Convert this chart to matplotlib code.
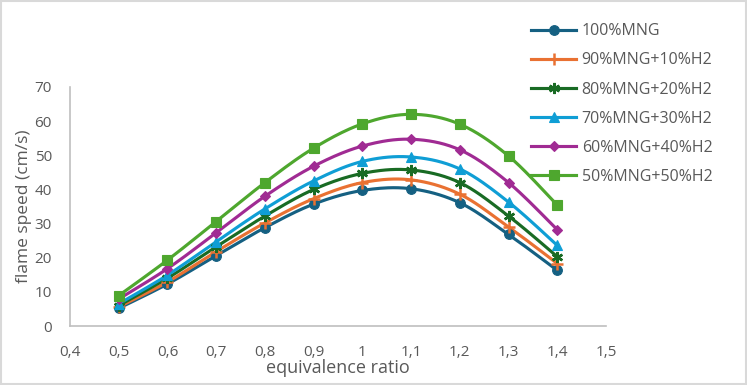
import numpy as np
import matplotlib
matplotlib.use("Agg")
import matplotlib.pyplot as plt
from matplotlib.patches import Rectangle

# ---- data ----
phi = [0.5, 0.6, 0.7, 0.8, 0.9, 1.0, 1.1, 1.2, 1.3, 1.4]
mng100 = [5.2, 12.3, 20.6, 28.8, 35.7, 39.7, 40.2, 36.1, 26.8, 16.3]
mng90 = [5.6, 12.9, 21.8, 30.2, 37.3, 42.0, 42.8, 38.6, 29.0, 18.3]
mng80 = [6.0, 14.0, 23.2, 32.2, 40.0, 44.7, 45.7, 42.0, 32.2, 20.3]
mng70 = [6.5, 14.9, 24.7, 34.3, 42.5, 48.2, 49.5, 46.0, 36.3, 23.6]
mng60 = [7.9, 16.8, 27.3, 38.0, 46.8, 52.7, 54.7, 51.6, 42.0, 28.2]
mng50 = [8.9, 19.3, 30.6, 42.0, 52.1, 59.2, 62.0, 59.1, 49.8, 35.4]
series_names = ["100%MNG", "90%MNG+10%H2", "80%MNG+20%H2",
                "70%MNG+30%H2", "60%MNG+40%H2", "50%MNG+50%H2"]
series_vals = [mng100, mng90, mng80, mng70, mng60, mng50]
xticks = [0.4, 0.5, 0.6, 0.7, 0.8, 0.9, 1.0, 1.1, 1.2, 1.3, 1.4, 1.5]
xtick_labels = ["0,4", "0,5", "0,6", "0,7", "0,8", "0,9", "1", "1,1", "1,2", "1,3", "1,4", "1,5"]
yticks = [0, 10, 20, 30, 40, 50, 60, 70]

colors = ["#156082", "#E97132", "#196B24", "#0F9ED5", "#A02B93", "#4EA72E"]
markers = ["o", "+", (6, 2, 0), "^", "D", "s"]
msizes = [7, 8, 8, 7.5, 5.5, 7.5]

plt.rcParams['font.family'] = ['Open Sans', 'DejaVu Sans']

fig = plt.figure(figsize=(7.47, 3.85), dpi=100)
ax = fig.add_axes([70/747, 1-326/385, (606-70)/747, (326-87)/385])
fig.patches.append(Rectangle((0.001, 0.002), 0.997, 0.995, transform=fig.transFigure,
                             fill=False, edgecolor="#d9d9d9", linewidth=1.5))

ax.set_xlim(0.4, 1.5)
ax.set_ylim(0, 70)


def smooth(x, y, sx, sy, n=20):
    # Excel-like smoothed line (cardinal Bezier), computed in screen-like scale
    P = np.column_stack([np.asarray(x) * sx, np.asarray(y) * sy])
    out = []
    m = len(P)
    for i in range(m - 1):
        p0 = P[i - 1] if i > 0 else P[i]
        p1 = P[i]
        p2 = P[i + 1]
        p3 = P[i + 2] if i + 2 < m else P[i + 1]
        c1 = p1 + (p2 - p0) / 6.0
        c2 = p2 - (p3 - p1) / 6.0
        t = np.linspace(0, 1, n)[:, None]
        seg = ((1 - t) ** 3) * p1 + 3 * ((1 - t) ** 2) * t * c1 + 3 * (1 - t) * t ** 2 * c2 + t ** 3 * p2
        out.append(seg if i == 0 else seg[1:])
    S = np.vstack(out)
    return S[:, 0] / sx, S[:, 1] / sy


sx = 490.0
sy = 3.414
for name, vals, c, mk, ms in zip(series_names, series_vals, colors, markers, msizes):
    xs, ys = smooth(phi, vals, sx, sy)
    ax.plot(xs, ys, color=c, lw=2.25, solid_capstyle="round", zorder=2)
    mew = 1.8 if mk in ("+",) or isinstance(mk, tuple) else 0.8
    ax.plot(phi, vals, linestyle="none", marker=mk, markersize=ms, color=c,
            markeredgecolor=c, markeredgewidth=mew, zorder=3)
    ax.plot([], [], color=c, lw=2.25, marker=mk, markersize=ms, markeredgewidth=mew,
            label=name)

ax.set_xticks(xticks)
ax.set_xticklabels(xtick_labels)
ax.set_yticks(yticks)
ax.tick_params(length=0, labelsize=11, labelcolor="#595959")
ax.tick_params(axis="x", pad=14)
ax.tick_params(axis="y", pad=13)
for s in ["top", "right"]:
    ax.spines[s].set_visible(False)
for s in ["left", "bottom"]:
    ax.spines[s].set_color("#bfbfbf")
    ax.spines[s].set_linewidth(1.2)

ax.set_xlabel("equivalence ratio", fontsize=13, color="#595959", labelpad=-1)
ax.set_ylabel("flame speed (cm/s)", fontsize=12.5, color="#595959", labelpad=2)

leg = ax.legend(loc="upper left", bbox_to_anchor=(525/747, 1-17/385),
                bbox_transform=fig.transFigure, frameon=False, fontsize=11.5,
                labelcolor="#595959", handlelength=2.8, handletextpad=0.35,
                labelspacing=0.82, borderaxespad=0)

fig.savefig("out.png", dpi=100)
